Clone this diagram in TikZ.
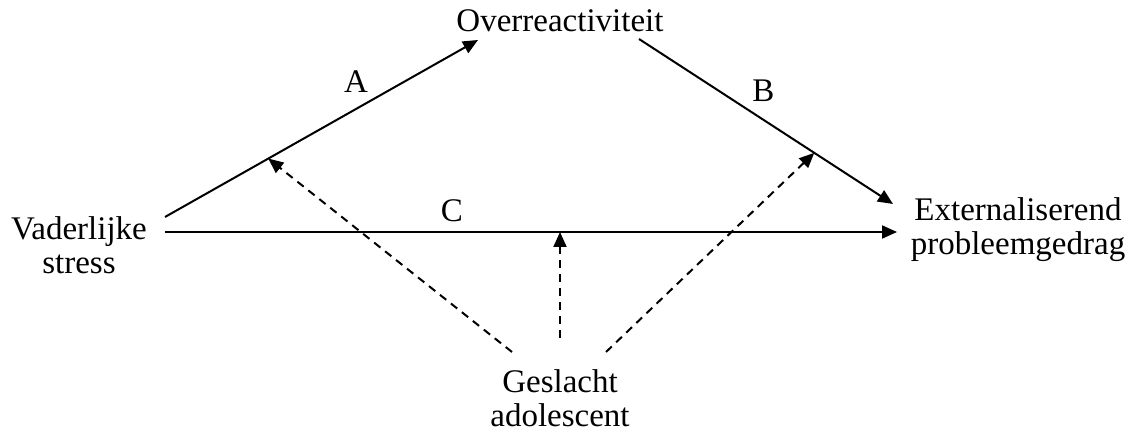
\documentclass[tikz,border=0pt]{standalone}
\usepackage{fontspec}
\setmainfont{Liberation Serif}
\usepackage{tikz}
\usetikzlibrary{arrows.meta, calc, positioning}

\begin{document}
\begin{tikzpicture}[x=0.5pt, y=-0.5pt,
      every node/.style={font=\fontsize{16.5}{17}\selectfont},
      var/.style={align=center, inner sep=0pt},
      link/.style={line width=1pt, -{Triangle[length=7.5pt, width=6.5pt]}},
      mod/.style={link, dash pattern=on 4pt off 3pt}]
    \useasboundingbox (0,0) rectangle (1128,431);
    % variables
    \node[var] (vs) at (79,245) {Vaderlijke\\stress};
    \node[var] (ov) at (560,21) {Overreactiviteit};
    \node[var] (ep) at (1018,230) {Externaliserend\\probleemgedrag};
    \node[var] (ga) at (560,398) {Geslacht\\adolescent};
    % line ends
    \coordinate (aS) at (165,217);
    \coordinate (aE) at (478,40);
    \coordinate (bS) at (639,39);
    \coordinate (bE) at (893,204);
    \coordinate (cS) at (165,232);
    \coordinate (cE) at (897,232);
    \draw[link] (aS) -- node[pos=0.61, yshift=13.5pt] (la) {A} (aE);
    \draw[link] (bS) -- node[pos=0.49, yshift=14.5pt] (lb) {B} (bE);
    \draw[link] (cS) -- node[pos=0.392, yshift=10.5pt] (lc) {C} (cE);
    % moderation
    \coordinate (ma) at ($(aS)!0.33!(aE)$);
    \coordinate (mb) at ($(bS)!0.69!(bE)$);
    \coordinate (mc) at (560,232);
    \coordinate (gl) at (512,352);
    \coordinate (gm) at (560,338);
    \coordinate (gr) at (606,352);
    \draw[mod] (gl) -- (ma);
    \draw[mod] (gm) -- (mc);
    \draw[mod] (gr) -- (mb);
  \end{tikzpicture}
\end{document}
